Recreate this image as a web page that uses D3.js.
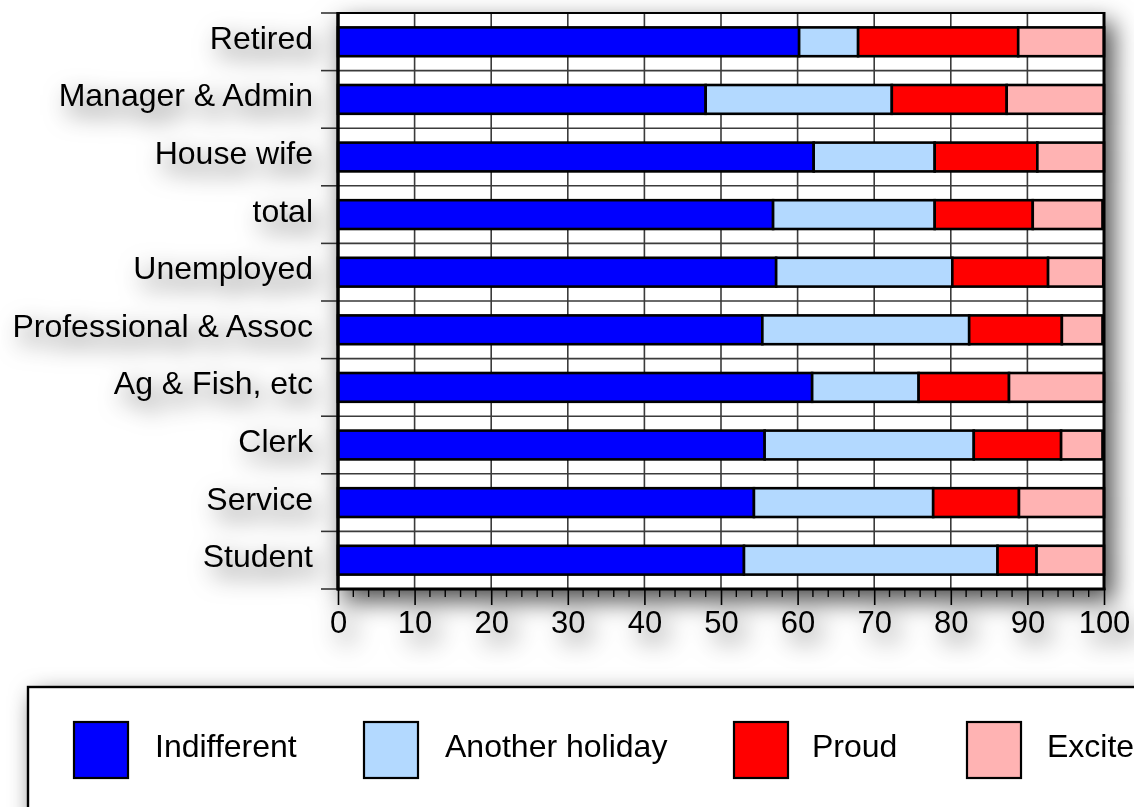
<!DOCTYPE html>
<html>
<head>
<meta charset="utf-8">
<script src="https://cdn.jsdelivr.net/npm/d3@7"></script>
<style>
  html, body { margin: 0; padding: 0; background: #fff; overflow: hidden; }
  text { font-family: "Liberation Sans", Arial, Helvetica, sans-serif; fill: #000; }
</style>
</head>
<body>
<svg id="chart" width="1134" height="807"></svg>
<script>
// Reaction to the holiday, by occupation (percent of respondents)
const categories = [
  "Retired", "Manager & Admin", "House wife", "total", "Unemployed",
  "Professional & Assoc", "Ag & Fish, etc", "Clerk", "Service", "Student"
];
const indifferent    = [60.2, 48.0, 62.1, 56.8, 57.2, 55.4, 61.9, 55.7, 54.3, 53.0];
const anotherHoliday = [ 7.7, 24.3, 15.8, 21.1, 23.0, 27.0, 13.9, 27.3, 23.4, 33.1];
const proud          = [20.9, 15.0, 13.4, 12.8, 12.5, 12.1, 11.8, 11.4, 11.2,  5.1];
const excited        = [11.2, 12.7,  8.7,  9.1,  7.2,  5.3, 12.4,  5.4, 11.1,  8.8];

const seriesNames  = ["Indifferent", "Another holiday", "Proud", "Excited"];
const seriesColors = ["#0000ff", "#b3d9ff", "#ff0000", "#ffb3b3"];
const xTicks = [0, 10, 20, 30, 40, 50, 60, 70, 80, 90, 100];
const xMinorTicks = d3.range(0, 101, 2);

const svg = d3.select("#chart");
const W = 1134, H = 807;
const plot = { left: 338, right: 1104, top: 13, bottom: 589 };

// Soft drop shadow used by the chart and the legend box
const defs = svg.append("defs");
const f = defs.append("filter").attr("id", "shadow")
  .attr("filterUnits", "userSpaceOnUse")
  .attr("x", -100).attr("y", -100).attr("width", W + 400).attr("height", H + 400);
f.append("feGaussianBlur").attr("in", "SourceAlpha").attr("stdDeviation", 12).attr("result", "blur");
f.append("feOffset").attr("in", "blur").attr("dx", 8).attr("dy", 10).attr("result", "off");
f.append("feFlood").attr("flood-color", "#000").attr("flood-opacity", 0.7).attr("result", "col");
f.append("feComposite").attr("in", "col").attr("in2", "off").attr("operator", "in").attr("result", "sh");
const m = f.append("feMerge");
m.append("feMergeNode").attr("in", "sh");
m.append("feMergeNode").attr("in", "SourceGraphic");

// Rows of data for stacking
const rows = categories.map((c, i) => ({
  category: c,
  "Indifferent": indifferent[i],
  "Another holiday": anotherHoliday[i],
  "Proud": proud[i],
  "Excited": excited[i]
}));
const stacked = d3.stack().keys(seriesNames)(rows);

const x = d3.scaleLinear().domain([0, 100]).range([plot.left, plot.right]);
const y = d3.scaleBand().domain(categories).range([plot.top, plot.bottom])
  .paddingInner(0.5).paddingOuter(0.25);
const color = d3.scaleOrdinal().domain(seriesNames).range(seriesColors);
const step = y.step();

const g = svg.append("g").attr("filter", "url(#shadow)");

// Plot background
g.append("rect")
  .attr("x", plot.left).attr("y", plot.top)
  .attr("width", plot.right - plot.left).attr("height", plot.bottom - plot.top)
  .attr("fill", "#fff");

// Vertical grid lines
g.append("g").selectAll("line").data(xTicks.slice(1, -1)).join("line")
  .attr("x1", d => x(d)).attr("x2", d => x(d))
  .attr("y1", plot.top).attr("y2", plot.bottom)
  .attr("stroke", "#3a3a3a").attr("stroke-width", 1.6);

// Horizontal grid lines at category boundaries
const boundaries = d3.range(1, categories.length).map(i => plot.top + i * step);
g.append("g").selectAll("line").data(boundaries).join("line")
  .attr("x1", plot.left).attr("x2", plot.right)
  .attr("y1", d => d).attr("y2", d => d)
  .attr("stroke", "#3a3a3a").attr("stroke-width", 1.6);

// Stacked bars
g.append("g").selectAll("g").data(stacked).join("g")
  .attr("fill", d => color(d.key))
  .selectAll("rect").data(d => d).join("rect")
  .attr("x", d => x(d[0]))
  .attr("y", d => y(d.data.category))
  .attr("width", d => x(d[1]) - x(d[0]))
  .attr("height", y.bandwidth())
  .attr("stroke", "#000").attr("stroke-width", 2.6);

// Plot frame
g.append("line").attr("x1", plot.left).attr("x2", plot.right).attr("y1", plot.top).attr("y2", plot.top)
  .attr("stroke", "#000").attr("stroke-width", 2.2);
g.append("line").attr("x1", plot.right).attr("x2", plot.right).attr("y1", plot.top - 1).attr("y2", plot.bottom + 1)
  .attr("stroke", "#000").attr("stroke-width", 3);

// Bottom axis with minor ticks
const xAxis = d3.axisBottom(x).tickValues(xTicks).tickSize(16).tickPadding(6).tickFormat(d3.format("d"));
const ax = g.append("g").attr("transform", `translate(0,${plot.bottom})`).call(xAxis);
ax.select(".domain").attr("stroke", "#000").attr("stroke-width", 3).attr("d", `M${plot.left - 1},0H${plot.right + 1.5}`);
ax.selectAll(".tick line").attr("stroke", "#000").attr("stroke-width", 1.6);
ax.selectAll(".tick text").attr("font-size", 31).attr("font-family", "Liberation Sans, Arial, sans-serif")
  .attr("dy", null).attr("y", 44);
g.append("g").selectAll("line").data(xMinorTicks.filter(d => d % 10 !== 0)).join("line")
  .attr("x1", d => x(d)).attr("x2", d => x(d))
  .attr("y1", plot.bottom).attr("y2", plot.bottom + 8)
  .attr("stroke", "#000").attr("stroke-width", 1.4);

// Left axis: ticks at the category boundaries, labels centred on each band
const yTickPos = d3.range(0, categories.length + 1).map(i => plot.top + i * step);
g.append("g").selectAll("line").data(yTickPos).join("line")
  .attr("x1", plot.left - 17).attr("x2", plot.left)
  .attr("y1", d => d).attr("y2", d => d)
  .attr("stroke", "#333").attr("stroke-width", 1.6);
g.append("line").attr("x1", plot.left).attr("x2", plot.left).attr("y1", plot.top - 1).attr("y2", plot.bottom + 1.5)
  .attr("stroke", "#000").attr("stroke-width", 3.5);
g.append("g").selectAll("text").data(categories).join("text")
  .attr("x", 313)
  .attr("y", d => y(d) + y.bandwidth() / 2 + 7)
  .attr("text-anchor", "end")
  .attr("font-size", 32)
  .text(d => d);

// Legend
const lg = svg.append("g");
lg.append("rect")
  .attr("x", 28).attr("y", 687).attr("width", 1300).attr("height", 300)
  .attr("fill", "#fff").attr("stroke", "#000").attr("stroke-width", 2.4)
  .attr("filter", "url(#shadow)");
const legendX = [74, 364, 734, 967];
const items = lg.selectAll("g.item").data(seriesNames).join("g").attr("class", "item")
  .attr("transform", (d, i) => `translate(${legendX[i]},722)`);
items.append("rect").attr("width", 54).attr("height", 56)
  .attr("fill", d => color(d)).attr("stroke", "#000").attr("stroke-width", 2.2);
items.append("text").attr("x", (d, i) => [81, 81, 78, 80][i]).attr("y", 35).attr("font-size", 32).text(d => d);
</script>
</body>
</html>
